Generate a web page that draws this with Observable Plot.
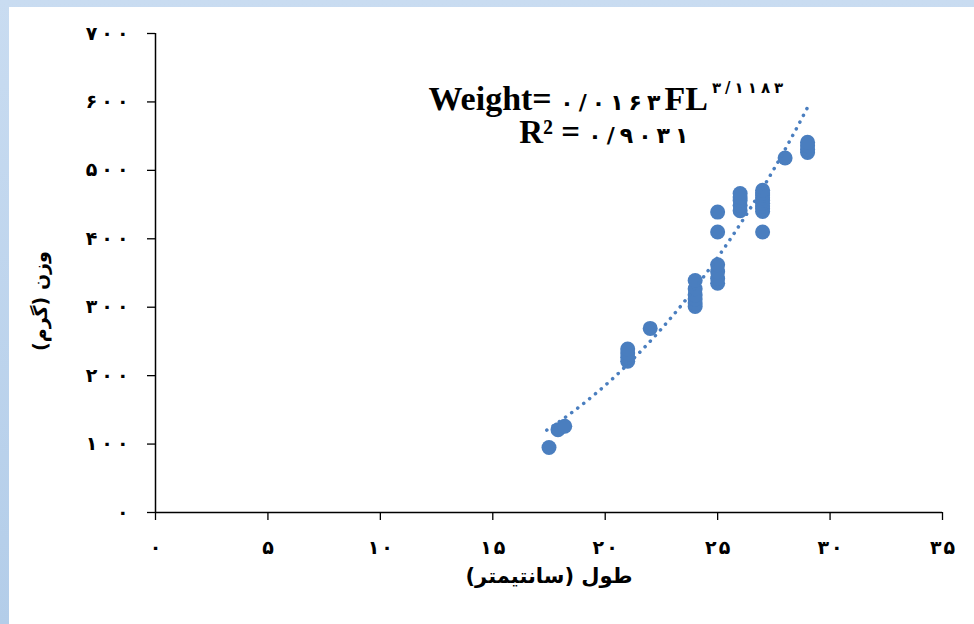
<!DOCTYPE html>
<html>
<head>
<meta charset="utf-8">
<script src="https://cdn.jsdelivr.net/npm/d3@7"></script>
<script src="https://cdn.jsdelivr.net/npm/@observablehq/plot@0.6"></script>
<style>
  html, body { margin: 0; padding: 0; }
  body { width: 974px; height: 624px; position: relative; overflow: hidden;
         background: linear-gradient(180deg, #c9dcf1 0%, #b3cde9 100%); }
  #paper { position: absolute; left: 9px; top: 7px; right: 0; bottom: 0; background: #ffffff; }
  #chart { position: absolute; left: 0; top: 0; }
</style>
</head>
<body>
<div id="paper"></div>
<div id="chart"></div>
<script>
// Fish length (cm) and weight (g)
const lengths = [17.5, 17.9, 18.2,
  21, 21, 21, 21,
  22,
  24, 24, 24, 24, 24, 24,
  25, 25, 25, 25, 25, 25,
  26, 26, 26, 26, 26,
  27, 27, 27, 27, 27, 27, 27, 27, 27, 27,
  28,
  29, 29, 29, 29];
const weights = [95, 121, 126,
  221, 227, 233, 239,
  269,
  301, 306, 312, 318, 327, 339,
  335, 342, 352, 362, 410, 439,
  441, 449, 456, 461, 466,
  410, 440, 444, 448, 452, 456, 460, 464, 467, 471,
  518,
  526, 531, 536, 541];

// Axis ticks and labels
const xTicks = [0, 5, 10, 15, 20, 25, 30, 35];
const xTickLabels = ["۰", "۵", "۱۰", "۱۵", "۲۰", "۲۵", "۳۰", "۳۵"];
const yTicks = [0, 100, 200, 300, 400, 500, 600, 700];
const yTickLabels = ["۰", "۱۰۰", "۲۰۰", "۳۰۰", "۴۰۰", "۵۰۰", "۶۰۰", "۷۰۰"];
const xLabel = "طول (سانتیمتر)";
const yLabel = "وزن (گرم)";

// Power trend line as printed on the chart: Weight = a * FL^b
const trendA = 0.0163;
const trendB = 3.1183;
const trendRange = [17.4, 29.0];
const eqWord = "Weight= ";
const eqCoef = "۰/۰۱۶۳";
const eqVar = "FL";
const eqExp = "۳/۱۱۸۳";
const eqR2Word = "R² = ";
const eqR2Val = "۰/۹۰۳۱";
// annotation anchor points (data units)
const eqPos = {x: 20.05, y: 588};
const r2Pos = {x: 19.96, y: 539};

const points = lengths.map((x, i) => ({x, y: weights[i]}));
const trend = d3.range(trendRange[0], trendRange[1] + 1e-9, 0.05).map(x => ({x, y: trendA * Math.pow(x, trendB)}));

const blue = "#4a7ebf";
const faFont = "'DejaVu Sans', sans-serif";
const serif = "'Liberation Serif', 'Times New Roman', serif";

const chart = Plot.plot({
  width: 974,
  height: 624,
  marginLeft: 155,
  marginRight: 32,
  marginTop: 33,
  marginBottom: 112,
  style: "background: transparent; overflow: visible;",
  x: {domain: [0, 35]},
  y: {domain: [0, 700]},
  marks: [
    Plot.axisX({ticks: xTicks, tickFormat: d => xTickLabels[xTicks.indexOf(d)], tickSize: 8, tickPadding: 20,
      stroke: "#000", strokeWidth: 1.3, fontSize: 19, fontWeight: "bold", fontFamily: faFont, fill: "#000", label: null}),
    Plot.axisY({ticks: yTicks, tickFormat: d => yTickLabels[yTicks.indexOf(d)], tickSize: 8, tickPadding: 19,
      stroke: "#000", strokeWidth: 1.3, fontSize: 19, fontWeight: "bold", fontFamily: faFont, fill: "#000", label: null}),
    Plot.ruleX([0], {y1: 0, y2: 700, stroke: "#000", strokeWidth: 1.5}),
    Plot.ruleY([0], {x1: 0, x2: 35, stroke: "#000", strokeWidth: 1.5}),
    Plot.dot(points, {x: "x", y: "y", r: 7.5, fill: blue, stroke: null}),
    Plot.line(trend, {x: "x", y: "y", stroke: blue, strokeWidth: 3.5, strokeDasharray: "0.1 7.5", strokeLinecap: "round"}),
    Plot.text([xLabel], {frameAnchor: "bottom", dy: 70, text: d => d, fontSize: 21, fontWeight: "bold", fontFamily: faFont, fill: "#000"}),
    Plot.text([yLabel], {frameAnchor: "left", textAnchor: "middle", dx: -115, dy: 28, rotate: -90, text: d => d, fontSize: 19, fontWeight: "bold", fontFamily: faFont, fill: "#000"})
  ]
});

const svg = d3.select(chart);

// Persian digits: browsers ignore letter-spacing on Arabic script, so space them with per-character dx
function spread(sel, str, gap) {
  Array.from(str).forEach((ch, i) => {
    const ts = sel.append("tspan").text(ch);
    if (i > 0) ts.attr("dx", gap);
  });
}
svg.selectAll('g[aria-label="y-axis tick label"] text').each(function() {
  const s = this.textContent; const sel = d3.select(this); sel.text(null); spread(sel, s, 4);
});
svg.selectAll('g[aria-label="x-axis tick label"] text').each(function() {
  const s = this.textContent; const sel = d3.select(this); sel.text(null); spread(sel, s, 2);
});

// Equation annotation with mixed sizes and a superscript (real SVG text with tspans)
const sx = chart.scale("x"), sy = chart.scale("y");
const g = svg.append("g").attr("fill", "#000").attr("font-weight", "bold");
const t1 = g.append("text").attr("x", sx.apply(eqPos.x)).attr("y", sy.apply(eqPos.y)).attr("text-anchor", "middle");
t1.append("tspan").attr("font-family", serif).attr("font-size", 34).text(eqWord);
spread(t1.append("tspan").attr("font-family", faFont).attr("font-size", 22), eqCoef, 5);
t1.append("tspan").attr("font-family", serif).attr("font-size", 34).attr("dx", 4).text(eqVar);
const ex = t1.append("tspan").attr("font-family", faFont).attr("font-size", 15).attr("dy", -17).attr("dx", 4);
spread(ex, eqExp, 4);
const t2 = g.append("text").attr("x", sx.apply(r2Pos.x)).attr("y", sy.apply(r2Pos.y)).attr("text-anchor", "middle");
t2.append("tspan").attr("font-family", serif).attr("font-size", 33).text(eqR2Word);
spread(t2.append("tspan").attr("font-family", faFont).attr("font-size", 22), eqR2Val, 5);

document.getElementById("chart").appendChild(chart);
</script>
</body>
</html>
